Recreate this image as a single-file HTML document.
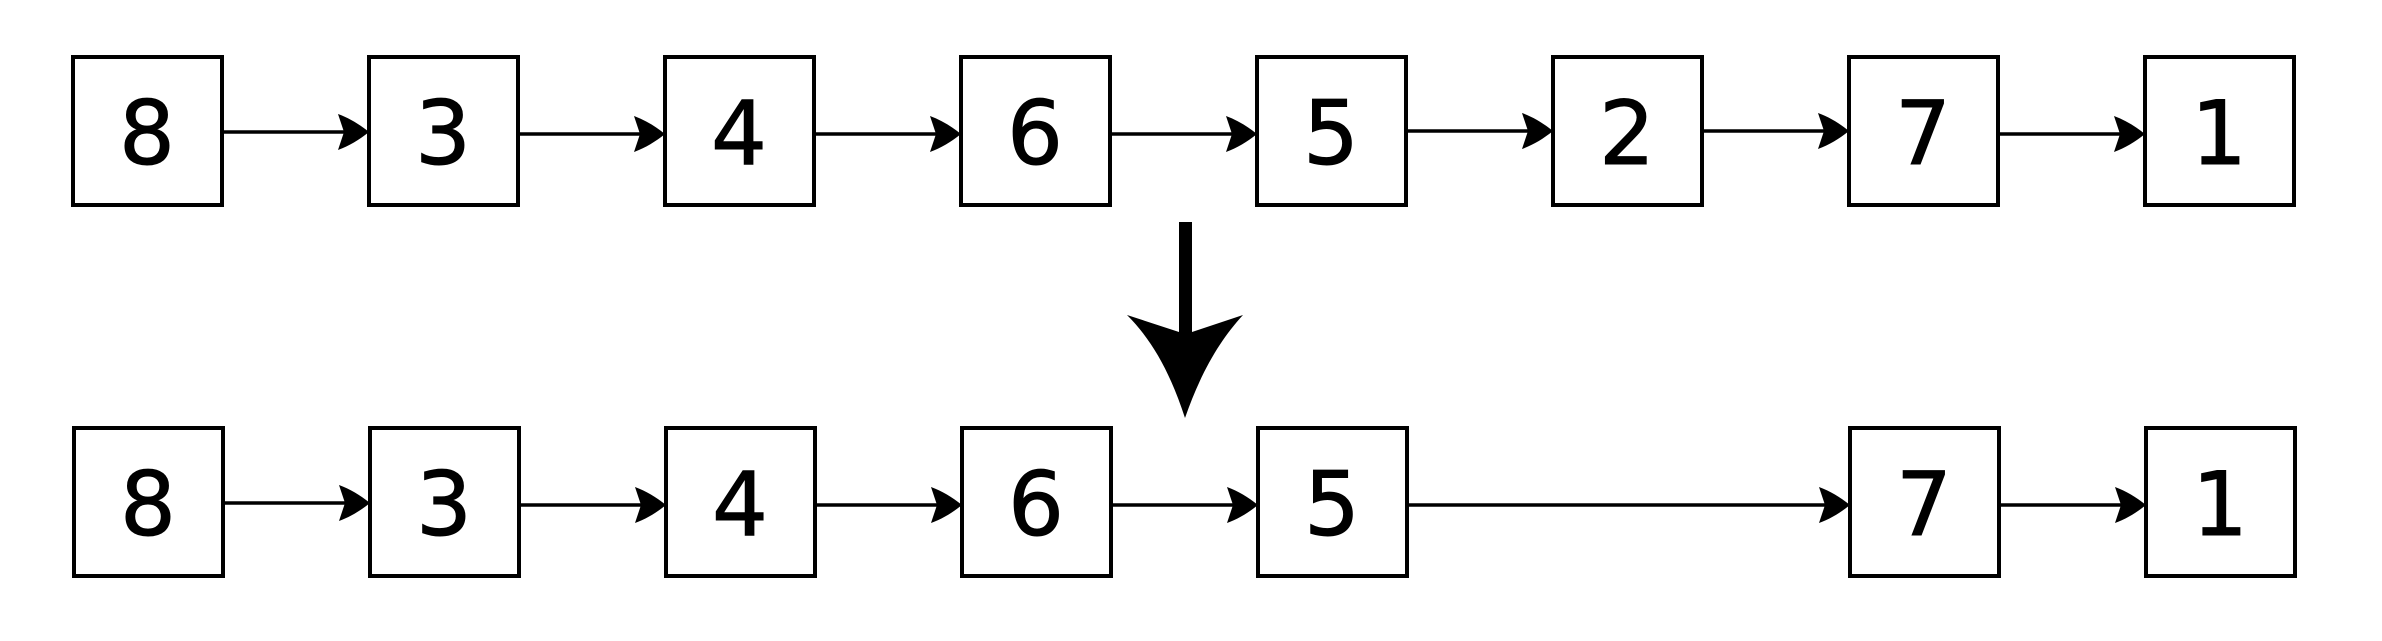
<!DOCTYPE html>
<html><head><style>body{margin:0;background:#fff}</style></head><body>
<svg width="2382" height="636" viewBox="0 0 2382 636" xmlns="http://www.w3.org/2000/svg">
<defs>
<path id="h" d="M0,0 C-10,-8 -20,-14 -31,-18 L-25,0 L-31,18 C-20,14 -10,8 0,0Z"/>
</defs>
<g fill="#fff" stroke="#000" stroke-width="4">
<rect x="73" y="57" width="149" height="148"/>
<rect x="369" y="57" width="149" height="148"/>
<rect x="665" y="57" width="149" height="148"/>
<rect x="961" y="57" width="149" height="148"/>
<rect x="1257" y="57" width="149" height="148"/>
<rect x="1553" y="57" width="149" height="148"/>
<rect x="1849" y="57" width="149" height="148"/>
<rect x="2145" y="57" width="149" height="148"/>
<rect x="74" y="428" width="149" height="148"/>
<rect x="370" y="428" width="149" height="148"/>
<rect x="666" y="428" width="149" height="148"/>
<rect x="962" y="428" width="149" height="148"/>
<rect x="1258" y="428" width="149" height="148"/>
<rect x="1850" y="428" width="149" height="148"/>
<rect x="2146" y="428" width="149" height="148"/>
</g>
<g stroke="#000" stroke-width="3.5">
<line x1="222" y1="132" x2="350" y2="132"/>
<line x1="518" y1="134" x2="646" y2="134"/>
<line x1="814" y1="134" x2="942" y2="134"/>
<line x1="1110" y1="134" x2="1238" y2="134"/>
<line x1="1406" y1="131" x2="1534" y2="131"/>
<line x1="1702" y1="131" x2="1830" y2="131"/>
<line x1="1998" y1="134" x2="2126" y2="134"/>
<line x1="223" y1="503" x2="351" y2="503"/>
<line x1="519" y1="505" x2="647" y2="505"/>
<line x1="815" y1="505" x2="943" y2="505"/>
<line x1="1111" y1="505" x2="1239" y2="505"/>
<line x1="1407" y1="505" x2="1831" y2="505"/>
<line x1="1999" y1="505" x2="2127" y2="505"/>
</g>
<g fill="#000">
<use href="#h" x="369" y="132"/>
<use href="#h" x="665" y="134"/>
<use href="#h" x="961" y="134"/>
<use href="#h" x="1257" y="134"/>
<use href="#h" x="1553" y="131"/>
<use href="#h" x="1849" y="131"/>
<use href="#h" x="2145" y="134"/>
<use href="#h" x="370" y="503"/>
<use href="#h" x="666" y="505"/>
<use href="#h" x="962" y="505"/>
<use href="#h" x="1258" y="505"/>
<use href="#h" x="1850" y="505"/>
<use href="#h" x="2146" y="505"/>
<rect x="1179" y="222" width="13" height="112"/>
<path d="M1185,418 C1170,372 1152,340 1127,315 L1179,332 L1192,332 L1243,315 C1220,340 1201,372 1185,418Z"/>
</g>
<g font-family="DejaVu Sans, Liberation Sans, sans-serif" font-size="88" text-anchor="middle" stroke="#000" stroke-width="1">
<text x="147" y="164">8</text>
<text x="443" y="164">3</text>
<text x="739" y="164">4</text>
<text x="1035" y="164">6</text>
<text x="1331" y="164">5</text>
<text x="1627" y="164">2</text>
<text x="1923" y="164">7</text>
<text x="2219" y="164">1</text>
<text x="148" y="535">8</text>
<text x="444" y="535">3</text>
<text x="740" y="535">4</text>
<text x="1036" y="535">6</text>
<text x="1332" y="535">5</text>
<text x="1924" y="535">7</text>
<text x="2220" y="535">1</text>
</g>
</svg>
</body></html>
